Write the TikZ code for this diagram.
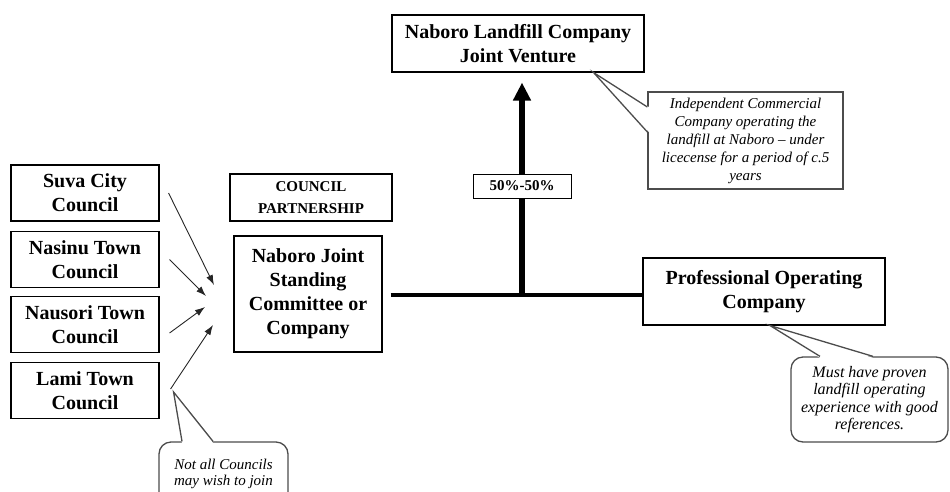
\documentclass[tikz,border=0pt]{standalone}
\usepackage{fontspec}
\setmainfont{Liberation Serif}
\usetikzlibrary{arrows.meta}
\begin{document}
\begin{tikzpicture}[x=1pt,y=-1pt,
	box/.style={draw,line width=1.1pt,align=center,inner sep=2pt,font=\fontsize{20}{24}\selectfont\bfseries},
	note/.style={draw=black!70,line width=1.3pt,fill=white,align=center,inner sep=2pt,font=\fontsize{15}{18}\selectfont\itshape},
	tip/.style={draw=black!70,line width=1.3pt},
	feed/.style={draw=black!85,line width=0.9pt,-{Latex[length=10pt,width=7pt]}},
	bar/.style={line width=4.7pt}]
		\useasboundingbox (0,0) rectangle (950,491);
		\clip (0,0) rectangle (950,491);
		\foreach \nm/\yy/\txt in {suva/193/{Suva City\\Council},nasinu/259.5/{Nasinu Town\\Council},nausori/324.5/{Nausori Town\\Council},lami/390.5/{Lami Town\\Council}}
		{
			\node[box,minimum width=148pt,minimum height=56pt] (\nm) at (85,\yy) {\txt};
		}
		\node[box,minimum width=252pt,minimum height=57pt] (landfill) at (518,43.5) {Naboro Landfill Company\\Joint Venture};
		\node[box,font=\fontsize{15}{22}\selectfont\bfseries,minimum width=162pt,minimum height=47pt] (partner) at (311,197.5) {COUNCIL\\PARTNERSHIP};
		\node[box,minimum width=148pt,minimum height=116pt] (joint) at (308,294) {Naboro Joint\\Standing\\Committee or\\Company};
		\node[box,minimum width=242pt,minimum height=67pt] (prof) at (764,291.5) {Professional Operating\\Company};
		\coordinate (hub) at (522,295);
		\draw[bar,shorten <=8pt] (joint.east |- hub) -- (prof.west |- hub);
		\draw[line width=6pt,shorten >=10pt,-{Triangle[length=18pt,width=17pt]}] (hub) -- (hub |- landfill.south);
		\node[box,line width=1pt,fill=white,font=\fontsize{15}{18}\selectfont\bfseries,minimum width=98pt,minimum height=24pt] (share) at (522,186) {50\%-50\%};
		\coordinate (in1) at (214,285);
		\coordinate (in2) at (206,296);
		\coordinate (in3) at (205,307);
		\coordinate (in4) at (213,325);
		\draw[feed] ([xshift=9pt]suva.east) -- (in1);
		\draw[feed] ([xshift=10pt]nasinu.east) -- (in2);
		\draw[feed] ([xshift=10pt,yshift=-8.5pt]nausori.east) -- (in3);
		\draw[feed] ([xshift=11pt,yshift=1.5pt]lami.east) -- (in4);
		\node[note,minimum width=195pt,minimum height=97pt] (indep) at (745.5,140.5) {Independent Commercial\\Company operating the\\landfill at Naboro -- under\\licecense for a period of c.5\\years};
		\coordinate (tipA) at ([xshift=-51pt]landfill.south east);
		\fill[white] ([xshift=1.5pt,yshift=33.5pt]indep.west) -- (tipA) -- ([xshift=1.5pt,yshift=8.5pt]indep.west) -- cycle;
		\draw[tip] ([yshift=33.5pt]indep.west) -- (tipA) -- ([yshift=8.5pt]indep.west);
		\node[note,rounded corners=12pt,font=\fontsize{16}{17.5}\selectfont\itshape,minimum width=157pt,minimum height=85pt] (proven) at (869.5,399.5) {Must have proven\\landfill operating\\experience with good\\references.};
		\coordinate (tipB) at ([xshift=6pt]prof.south);
		\fill[white] ([xshift=-49.5pt,yshift=-1.5pt]proven.north) -- (tipB) -- ([xshift=3.5pt,yshift=-1.5pt]proven.north) -- cycle;
		\draw[tip] ([xshift=-49.5pt]proven.north) -- (tipB) -- ([xshift=3.5pt]proven.north);
		\node[note,rounded corners=12pt,font=\fontsize{15}{15.5}\selectfont\itshape,minimum width=129pt,minimum height=64pt] (notall) at (223.5,474) {Not all Councils\\may wish to join};
		\coordinate (tipC) at ([xshift=14pt,yshift=-1.5pt]lami.east);
		\fill[white] ([xshift=-41.5pt,yshift=-1.5pt]notall.north) -- (tipC) -- ([xshift=-10.5pt,yshift=-1.5pt]notall.north) -- cycle;
		\draw[tip] ([xshift=-41.5pt]notall.north) -- (tipC) -- ([xshift=-10.5pt]notall.north);
\end{tikzpicture}
\end{document}
